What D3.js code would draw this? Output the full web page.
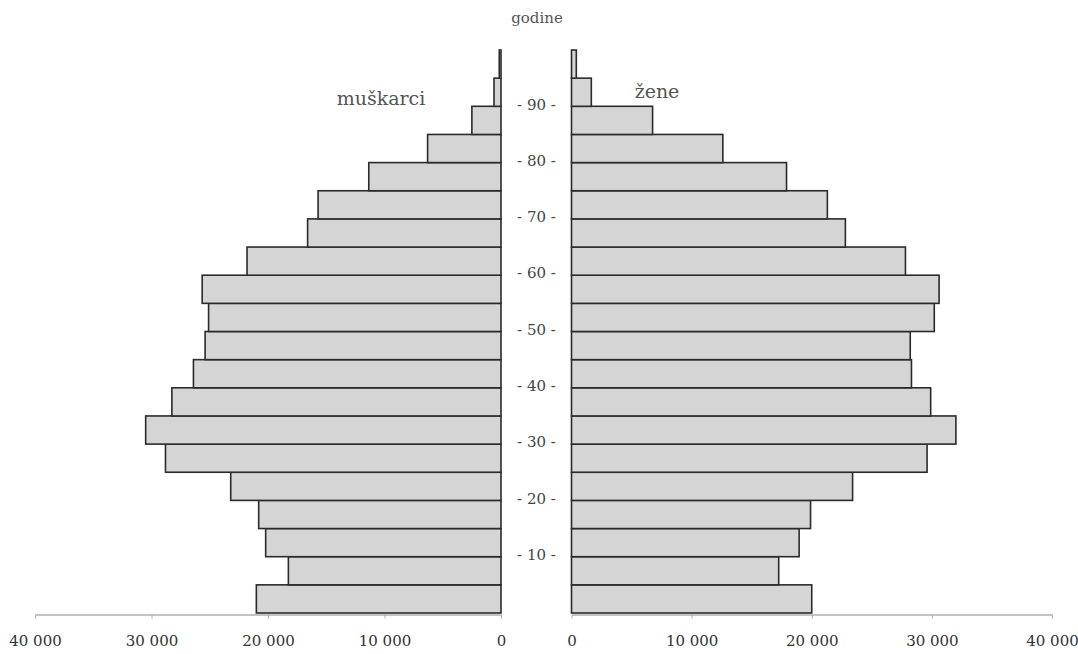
<!DOCTYPE html>
<html>
<head>
<meta charset="utf-8">
<script src="https://cdn.jsdelivr.net/npm/d3@7"></script>
<style>
  html, body { margin: 0; padding: 0; background: #fff; }
  svg { display: block; }
</style>
</head>
<body>
<svg id="chart" width="1078" height="654"></svg>
<script>
// Age groups (bottom to top)
const ageGroups = ["0-4","5-9","10-14","15-19","20-24","25-29","30-34","35-39","40-44","45-49",
                   "50-54","55-59","60-64","65-69","70-74","75-79","80-84","85-89","90-94","95-99"];
// Males (muškarci)
const male = [21000, 18250, 20200, 20800, 23200, 28800, 30500, 28250, 26400, 25400,
              25100, 25650, 21800, 16600, 15700, 11350, 6300, 2500, 600, 150];
// Females (žene)
const female = [20000, 17250, 18950, 19900, 23400, 29600, 32000, 29900, 28300, 28200,
                30200, 30600, 27800, 22800, 21300, 17900, 12600, 6750, 1650, 400];
const xTicks = [0, 10000, 20000, 30000, 40000];
const ageTicks = [10, 20, 30, 40, 50, 60, 70, 80, 90];
const titleText = "godine";
const maleLabel = "muškarci";
const femaleLabel = "žene";

const serif = "DejaVu Serif";
const svg = d3.select("#chart");

const xLeft = d3.scaleLinear().domain([0, 40000]).range([501, 35]);
const xRight = d3.scaleLinear().domain([0, 40000]).range([571.5, 1052]);
const yBand = d3.scaleBand().domain(ageGroups).range([613, 50]).padding(0);
const yAge = d3.scaleLinear().domain([0, 100]).range([613, 50]);

const fill = "#d5d5d5", stroke = "#2b2b2b";

// male bars
svg.append("g").selectAll("rect").data(ageGroups).join("rect")
  .attr("x", (d, i) => xLeft(male[i]))
  .attr("y", d => yBand(d))
  .attr("width", (d, i) => xLeft(0) - xLeft(male[i]))
  .attr("height", yBand.bandwidth())
  .attr("fill", fill).attr("stroke", stroke).attr("stroke-width", 1.6);

// female bars
svg.append("g").selectAll("rect").data(ageGroups).join("rect")
  .attr("x", xRight(0))
  .attr("y", d => yBand(d))
  .attr("width", (d, i) => xRight(female[i]) - xRight(0))
  .attr("height", yBand.bandwidth())
  .attr("fill", fill).attr("stroke", stroke).attr("stroke-width", 1.6);

const fmt = v => v === 0 ? "0" : d3.format(",")(v).replace(/,/g, " ");

// bottom axes
const axL = svg.append("g").attr("transform", "translate(0,614.5)")
  .call(d3.axisBottom(xLeft).tickValues(xTicks).tickFormat(fmt).tickSize(4).tickSizeOuter(0));
const axR = svg.append("g").attr("transform", "translate(0,614.5)")
  .call(d3.axisBottom(xRight).tickValues(xTicks).tickFormat(fmt).tickSize(4).tickSizeOuter(0));
[axL, axR].forEach(a => {
  a.attr("font-family", serif);
  a.select(".domain").attr("stroke", "#8a8a8a").attr("stroke-width", 1.2);
  a.selectAll(".tick line").attr("stroke", "#b0b0b0");
  a.selectAll(".tick text")
    .attr("font-family", serif)
    .attr("font-size", 15).attr("fill", "#333").attr("dy", "1.65em");
});

// age tick labels in the centre
svg.append("g").selectAll("text").data(ageTicks).join("text")
  .attr("x", 536.5)
  .attr("y", d => yAge(d) - 2)
  .attr("dy", "0.35em")
  .attr("text-anchor", "middle")
  .attr("font-family", serif)
  .attr("font-size", 15)
  .attr("fill", "#444")
  .text(d => "- " + d + " -");

// titles
svg.append("text").attr("x", 537).attr("y", 23).attr("text-anchor", "middle")
  .attr("font-family", serif)
  .attr("font-size", 15).attr("fill", "#555").text(titleText);
svg.append("text").attr("x", 381).attr("y", 105).attr("text-anchor", "middle")
  .attr("font-family", serif)
  .attr("font-size", 19).attr("fill", "#555").text(maleLabel);
svg.append("text").attr("x", 657).attr("y", 98).attr("text-anchor", "middle")
  .attr("font-family", serif)
  .attr("font-size", 19).attr("fill", "#555").text(femaleLabel);
</script>
</body>
</html>
